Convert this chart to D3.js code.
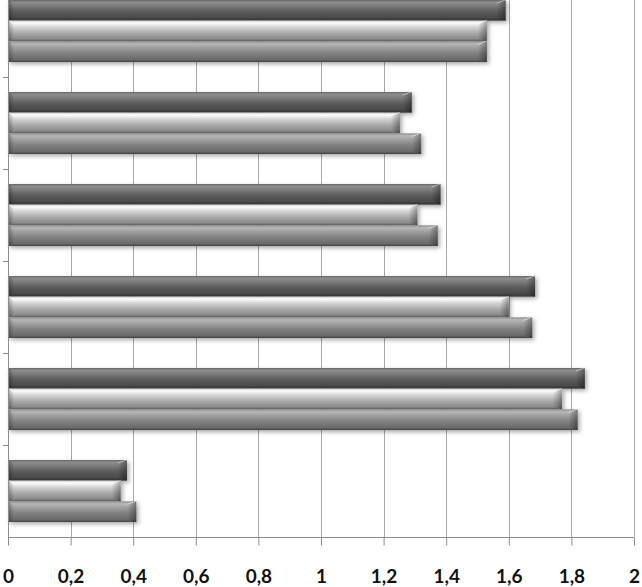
<!DOCTYPE html>
<html>
<head>
<meta charset="utf-8">
<script src="https://cdn.jsdelivr.net/npm/d3@7/dist/d3.min.js"></script>
<style>
html,body{margin:0;padding:0;background:#fff;}
svg{display:block;}
</style>
</head>
<body>
<svg id="chart" width="642" height="587"></svg>
<script>
// ---- data ----
const categories = ["G1","G2","G3","G4","G5","G6"];
const seriesNames = ["S3","S2","S1"]; // top to bottom within each group
const seriesDark   = [1.59, 1.29, 1.382, 1.684, 1.843, 0.38];
const seriesLight  = [1.53, 1.252, 1.308, 1.60, 1.77, 0.36];
const seriesMedium = [1.53, 1.32, 1.373, 1.675, 1.82, 0.41];
const xTickValues  = [0,0.2,0.4,0.6,0.8,1,1.2,1.4,1.6,1.8,2];
const xTickLabels  = ["0","0,2","0,4","0,6","0,8","1","1,2","1,4","1,6","1,8","2"];

(function(){
const svg = d3.select("#chart");
const mLeft = 8, mRight = 634, mTop = -15, mBottom = 537;

const x = d3.scaleLinear().domain([0,2]).range([mLeft,mRight]);
const y = d3.scaleBand().domain(categories).range([mTop,mBottom]).padding(0);
const inner = d3.scaleBand().domain(seriesNames).range([15, y.bandwidth()-15]).padding(0);

const defs = svg.append("defs");
function grad(id, stops){
  const g = defs.append("linearGradient").attr("id",id).attr("x1",0).attr("y1",0).attr("x2",0).attr("y2",1);
  stops.forEach(s=>g.append("stop").attr("offset",s[0]).attr("stop-color",s[1]));
}
grad("gDark",  [[0,"#6a6a6a"],[0.12,"#8c8c8c"],[0.3,"#7a7a7a"],[0.55,"#5c5c5c"],[0.85,"#4a4a4a"],[1,"#333"]]);
grad("gLight", [[0,"#d8d8d8"],[0.12,"#fbfbfb"],[0.3,"#d6d6d6"],[0.6,"#a9a9a9"],[0.88,"#8a8a8a"],[1,"#5e5e5e"]]);
grad("gMed",   [[0,"#8e8e8e"],[0.12,"#b8b8b8"],[0.3,"#a0a0a0"],[0.6,"#7e7e7e"],[0.88,"#6a6a6a"],[1,"#444"]]);
const eg = defs.append("linearGradient").attr("id","gEnd").attr("x1",0).attr("y1",0).attr("x2",1).attr("y2",0);
eg.append("stop").attr("offset",0).attr("stop-color","#000").attr("stop-opacity",0.0);
eg.append("stop").attr("offset",1).attr("stop-color","#000").attr("stop-opacity",0.35);
const sg = defs.append("linearGradient").attr("id","gStart").attr("x1",0).attr("y1",0).attr("x2",1).attr("y2",0);
sg.append("stop").attr("offset",0).attr("stop-color","#000").attr("stop-opacity",0.3);
sg.append("stop").attr("offset",1).attr("stop-color","#000").attr("stop-opacity",0.0);
const f = defs.append("filter").attr("id","shadow").attr("x","-5%").attr("y","-30%").attr("width","115%").attr("height","180%");
f.append("feDropShadow").attr("dx",2).attr("dy",2).attr("stdDeviation",2).attr("flood-color","#000").attr("flood-opacity",0.35);

// gridlines
svg.append("g").selectAll("line").data(xTickValues.slice(1)).join("line")
  .attr("x1",d=>Math.round(x(d))+0.5).attr("x2",d=>Math.round(x(d))+0.5).attr("y1",0).attr("y2",mBottom)
  .attr("stroke","#a8a8a8").attr("stroke-width",1);

const series = [
  {name:"S3", values:seriesDark,   fill:"url(#gDark)"},
  {name:"S2", values:seriesLight,  fill:"url(#gLight)"},
  {name:"S1", values:seriesMedium, fill:"url(#gMed)"}
];

const gBars = svg.append("g");
categories.forEach((c,i)=>{
  series.forEach(s=>{
    const v = s.values[i];
    const y0 = y(c)+inner(s.name), h = inner.bandwidth(), x0 = x(0), w = x(v)-x(0);
    const g = gBars.append("g");
    g.append("rect").attr("x",x0).attr("y",y0).attr("width",w).attr("height",h)
      .attr("fill",s.fill).attr("filter","url(#shadow)");
    g.append("path").attr("d",`M${x0+w-9},${y0+3} L${x0+w},${y0} L${x0+w},${y0+h} L${x0+w-9},${y0+h-3} Z`)
      .attr("fill","url(#gEnd)");
    g.append("path").attr("d",`M${x0+w-9},${y0+3} L${x0+w},${y0}`).attr("stroke","#fff").attr("stroke-opacity",0.5).attr("stroke-width",1);
    g.append("path").attr("d",`M${x0},${y0} L${x0+6},${y0+4} L${x0+6},${y0+h-3} L${x0},${y0+h} Z`)
      .attr("fill","url(#gStart)");
  });
});

// y axis line and ticks
svg.append("line").attr("x1",mLeft+0.5).attr("x2",mLeft+0.5).attr("y1",0).attr("y2",mBottom)
  .attr("stroke","#8c8c8c");
svg.append("g").selectAll("line").data(categories.slice(1)).join("line")
  .attr("x1",3).attr("x2",mLeft).attr("y1",d=>Math.round(y(d))+0.5).attr("y2",d=>Math.round(y(d))+0.5)
  .attr("stroke","#8c8c8c");

// x axis
const xAxis = d3.axisBottom(x).tickValues(xTickValues).tickSize(8).tickPadding(24)
  .tickFormat((d,i)=>xTickLabels[i]);
const ax = svg.append("g").attr("transform",`translate(0,${mBottom+0.5})`).call(xAxis);
ax.select(".domain").attr("stroke","#8c8c8c").attr("d",`M${mLeft},0H${mRight}`);
ax.selectAll(".tick line").attr("stroke","#8c8c8c");
ax.selectAll(".tick text").attr("font-family","Lato, 'Open Sans', sans-serif")
  .attr("font-weight","bold").attr("font-size","19px").attr("fill","#111");
})();
</script>
</body>
</html>
